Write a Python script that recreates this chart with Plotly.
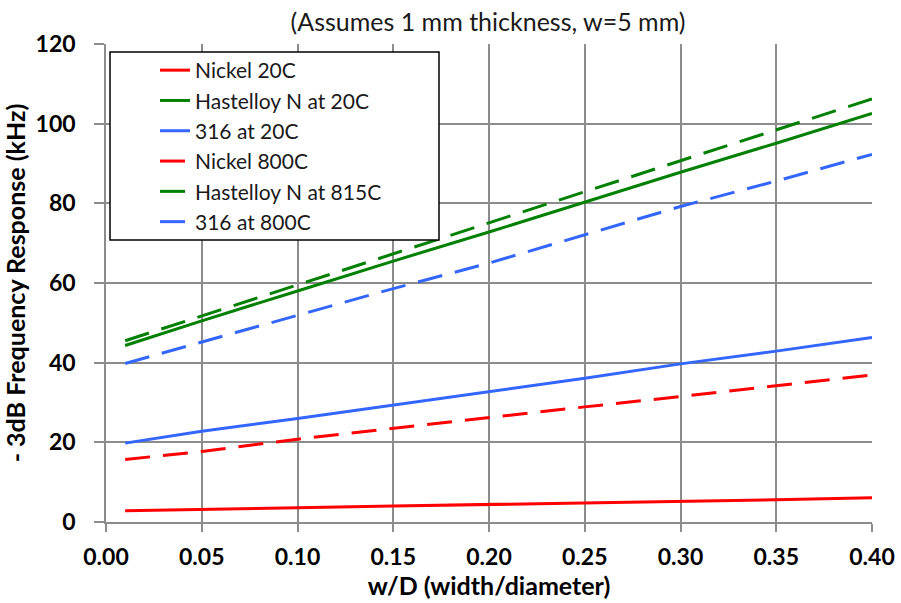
import plotly.graph_objects as go

x_wd = [0.01, 0.05, 0.10, 0.15, 0.20, 0.25, 0.30, 0.35, 0.40]

nickel_20c = [2.8, 3.2, 3.6, 4.0, 4.4, 4.8, 5.1, 5.6, 6.1]
hastelloy_20c = [44.3, 50.5, 58.0, 65.5, 72.8, 80.3, 87.8, 95.1, 102.6]
ss316_20c = [19.8, 22.8, 26.0, 29.4, 32.7, 36.1, 39.7, 42.9, 46.3]
nickel_800c = [15.7, 17.7, 20.8, 23.5, 26.3, 28.9, 31.5, 34.2, 36.9]
hastelloy_815c = [45.5, 51.7, 59.5, 67.3, 75.1, 82.9, 90.7, 98.4, 106.2]
ss316_800c = [39.8, 45.2, 51.9, 58.6, 65.0, 72.1, 79.2, 85.6, 92.3]

series_names = ["Nickel 20C", "Hastelloy N at 20C", "316 at 20C",
                "Nickel 800C", "Hastelloy N at 815C", "316 at 800C"]
series_values = [nickel_20c, hastelloy_20c, ss316_20c,
                 nickel_800c, hastelloy_815c, ss316_800c]
colors = ["#ff0000", "#008000", "#3366ff", "#ff0000", "#008000", "#3366ff"]
dashes = ["solid", "solid", "solid", "25px,13px", "25px,13px", "25px,13px"]

x_ticks = [0.0, 0.05, 0.10, 0.15, 0.20, 0.25, 0.30, 0.35, 0.40]
y_ticks = [0, 20, 40, 60, 80, 100, 120]

FONT = "Lato, 'Open Sans', sans-serif"

fig = go.Figure()
for i, (name, vals, c, d) in enumerate(zip(series_names, series_values, colors, dashes)):
    fig.add_trace(go.Scatter(
        x=x_wd, y=vals, name=name, mode="lines",
        line=dict(color=c, width=3, dash=d),
        legendgroup=f"g{i}",
    ))

grid = "#8c8c8c"
L, R, T, B = 106, 872, 44, 522
PW, PH = R - L, B - T

fig.update_layout(
    width=901, height=603,
    margin=dict(l=L, r=901 - R, t=T, b=603 - B, autoexpand=False),
    paper_bgcolor="white", plot_bgcolor="white",
    font=dict(family=FONT, color="#000000"),
    title=dict(text="(Assumes 1 mm thickness, w=5 mm)", x=(488) / 901, xanchor="center",
               y=1 - 22 / 603, yanchor="middle", font=dict(size=25, family=FONT, color="#1a1a1a")),
    showlegend=True,
    legend=dict(
        x=(155 - L) / PW, xanchor="left",
        y=1 - (50 - T) / PH, yanchor="top",
        bgcolor="rgba(0,0,0,0)", borderwidth=0,
        font=dict(size=21, family=FONT, color="#1a1a1a"),
        tracegroupgap=0,
        itemwidth=30,
    ),
    shapes=[dict(type="rect", xref="paper", yref="paper",
                 x0=(110 - L) / PW, x1=(439 - L) / PW,
                 y0=1 - (240 - T) / PH, y1=1 - (52 - T) / PH,
                 line=dict(color="black", width=1.5), fillcolor="white", layer="above")],
)
fig.update_xaxes(
    range=[0, 0.40], tickvals=x_ticks, ticktext=[f"{v:.2f}" for v in x_ticks],
    showgrid=True, gridcolor=grid, gridwidth=1.5,
    showline=True, linecolor=grid, linewidth=1.5, mirror=False,
    ticks="outside", ticklen=8, tickcolor=grid, tickwidth=1.5,
    tickfont=dict(size=23, family=FONT, color="#000000", weight="bold"),
    ticklabelstandoff=6,
    title=dict(text="<b>w/D (width/diameter)</b>", font=dict(size=25, family=FONT), standoff=4),
    zeroline=False, automargin=False,
)
fig.update_yaxes(
    range=[0, 120], tickvals=y_ticks,
    showgrid=True, gridcolor=grid, gridwidth=1.5,
    showline=True, linecolor=grid, linewidth=1.5,
    ticks="outside", ticklen=10, tickcolor=grid, tickwidth=1.5,
    tickfont=dict(size=23, family=FONT, color="#000000", weight="bold"),
    ticklabelstandoff=14,
    title=dict(text="<b>- 3dB Frequency Response (kHz)</b>", font=dict(size=25, family=FONT), standoff=8),
    zeroline=False, automargin=False,
)

fig.write_html("out.html", config={"displayModeBar": False},
               post_script="document.body.style.margin='0';document.body.style.overflow='hidden';")
